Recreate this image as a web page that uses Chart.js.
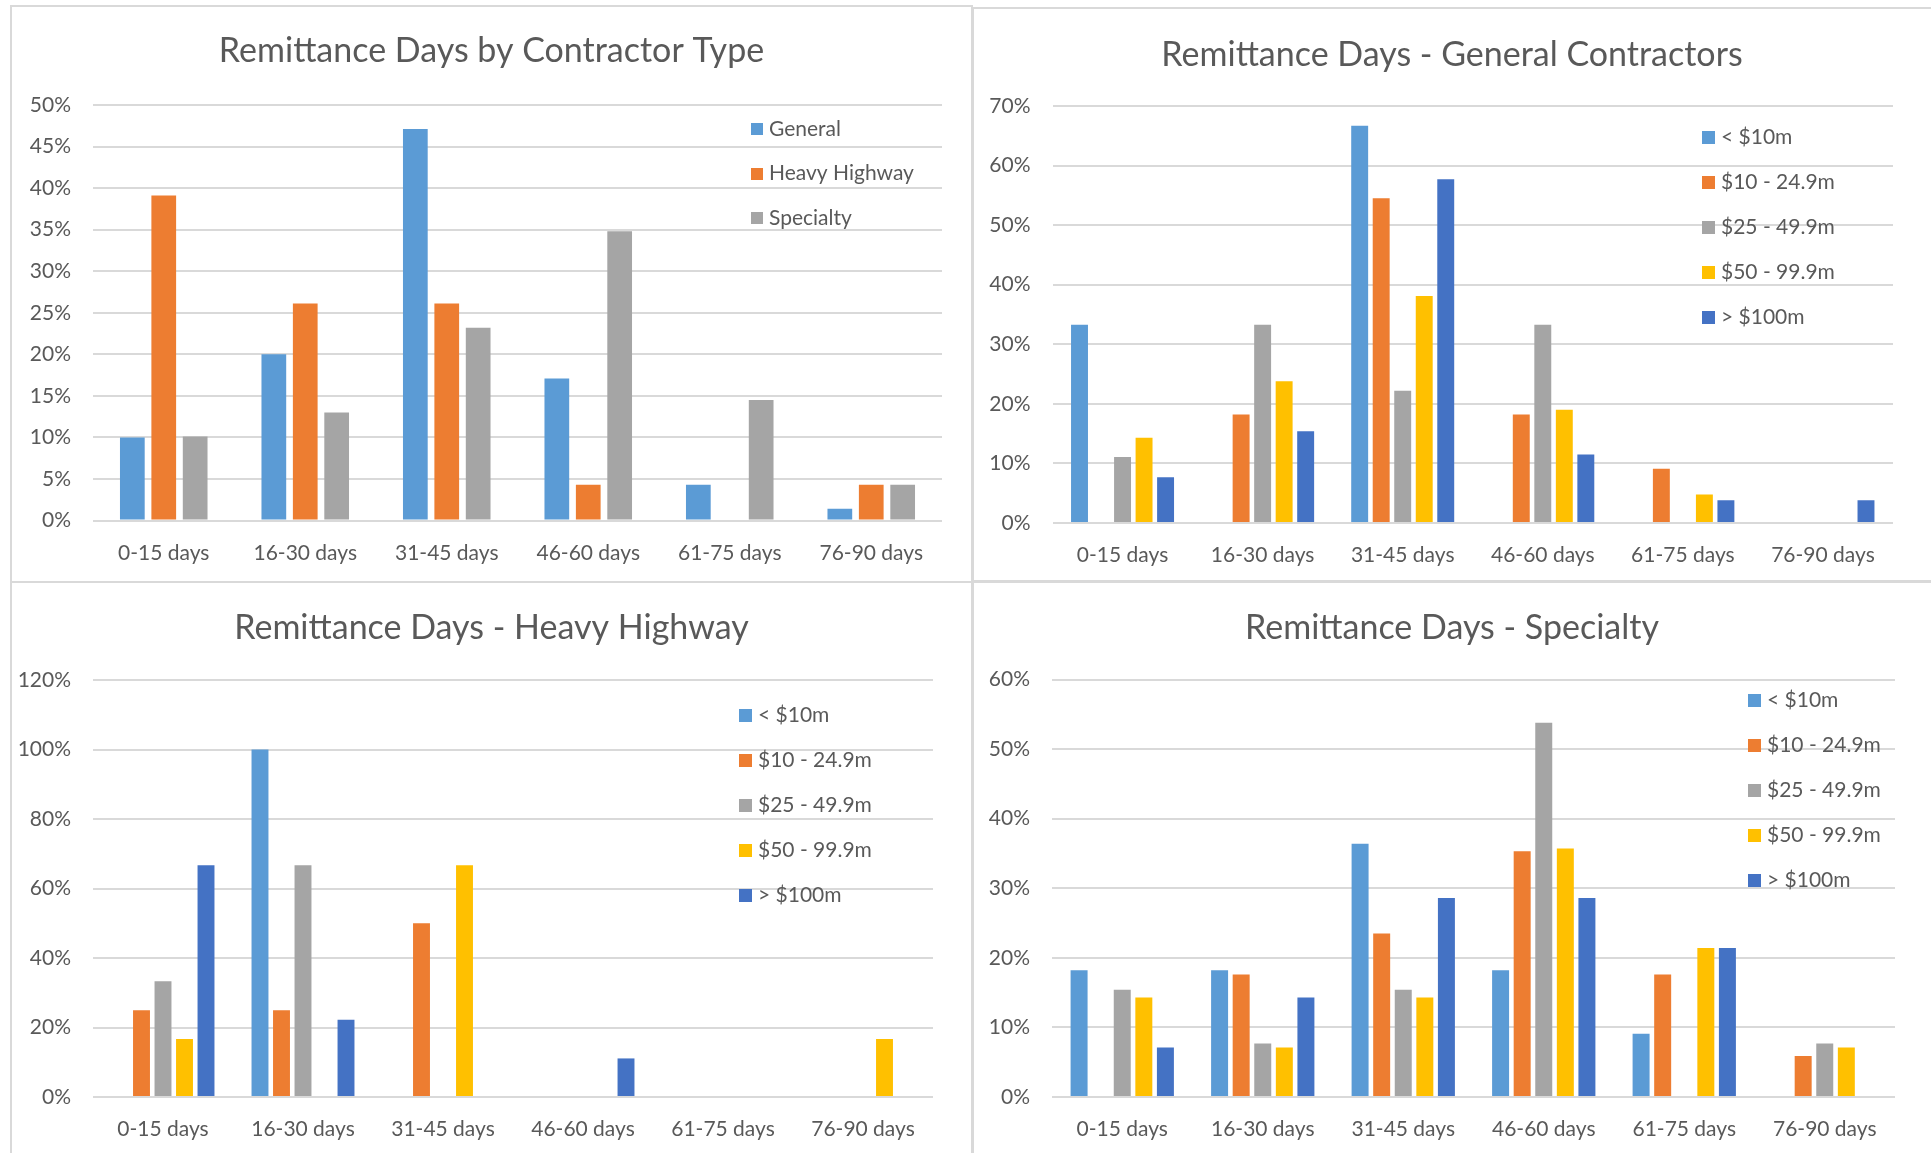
<!DOCTYPE html>
<html>
<head>
<meta charset="utf-8">
<script src="https://cdn.jsdelivr.net/npm/chart.js@4.4.1/dist/chart.umd.min.js"></script>
<style>
  html, body { margin: 0; padding: 0; background: #ffffff; }
  body { width: 1931px; height: 1153px; position: relative; overflow: hidden; }
  .panel { position: absolute; box-sizing: border-box; border: 2px solid #D9D9D9; }
  canvas { position: absolute; }
</style>
</head>
<body>
<div class="panel" style="left:10px;top:5px;width:963px;height:578px;"></div>
<div class="panel" style="left:972px;top:7px;width:975px;height:575px;"></div>
<div class="panel" style="left:10px;top:581px;width:963px;height:590px;"></div>
<div class="panel" style="left:972px;top:581px;width:975px;height:590px;"></div>

<canvas id="c1" width="961" height="582" style="left:11px;top:0px;width:961px;height:582px;"></canvas>
<canvas id="c2" width="958" height="582" style="left:973px;top:0px;width:958px;height:582px;"></canvas>
<canvas id="c3" width="961" height="570" style="left:11px;top:583px;width:961px;height:570px;"></canvas>
<canvas id="c4" width="958" height="570" style="left:973px;top:583px;width:958px;height:570px;"></canvas>

<script>
// ---------- DATA ----------
const categories = ['0-15 days', '16-30 days', '31-45 days', '46-60 days', '61-75 days', '76-90 days'];
const typeLabels = ['General', 'Heavy Highway', 'Specialty'];
const sizeLabels = ['< $10m', '$10 - 24.9m', '$25 - 49.9m', '$50 - 99.9m', '> $100m'];

const chartTitles = [
  'Remittance Days by Contractor Type',
  'Remittance Days - General Contractors',
  'Remittance Days - Heavy Highway',
  'Remittance Days - Specialty'
];

// Chart 1: by contractor type (%)
const typeGeneral      = [10.0, 20.0, 47.1, 17.1, 4.3, 1.4];
const typeHeavyHighway = [39.1, 26.1, 26.1, 4.3, 0, 4.3];
const typeSpecialty    = [10.1, 13.0, 23.2, 34.8, 14.5, 4.3];

// Chart 2: General contractors by size (%)
const genUnder10  = [33.3, 0, 66.7, 0, 0, 0];
const gen10to25   = [0, 18.2, 54.5, 18.2, 9.1, 0];
const gen25to50   = [11.1, 33.3, 22.2, 33.3, 0, 0];
const gen50to100  = [14.3, 23.8, 38.1, 19.0, 4.8, 0];
const genOver100  = [7.7, 15.4, 57.7, 11.5, 3.8, 3.8];

// Chart 3: Heavy Highway by size (%)
const hhUnder10  = [0, 100, 0, 0, 0, 0];
const hh10to25   = [25.0, 25.0, 50.0, 0, 0, 0];
const hh25to50   = [33.3, 66.7, 0, 0, 0, 0];
const hh50to100  = [16.7, 0, 66.7, 0, 0, 16.7];
const hhOver100  = [66.7, 22.2, 0, 11.1, 0, 0];

// Chart 4: Specialty by size (%)
const spUnder10  = [18.2, 18.2, 36.4, 18.2, 9.1, 0];
const sp10to25   = [0, 17.6, 23.5, 35.3, 17.6, 5.9];
const sp25to50   = [15.4, 7.7, 15.4, 53.8, 0, 7.7];
const sp50to100  = [14.3, 7.1, 14.3, 35.7, 21.4, 7.1];
const spOver100  = [7.1, 14.3, 28.6, 28.6, 21.4, 0];

// Axis ranges (tick labels)
const axisMax   = [50, 70, 120, 60];
const axisStep  = [5, 10, 20, 10];

// ---------- STYLE ----------
const COLORS = ['#5B9BD5', '#ED7D31', '#A5A5A5', '#FFC000', '#4472C4'];
const TEXT = '#595959';
const FONT = 'Lato, "Open Sans", sans-serif';

const insideLegend = {
  id: 'insideLegend',
  afterDatasetsDraw(chart, args, o) {
    const ctx = chart.ctx;
    ctx.save();
    ctx.font = o.fontSize + 'px ' + FONT;
    ctx.textBaseline = 'middle';
    ctx.textAlign = 'left';
    chart.data.datasets.forEach((ds, i) => {
      const y = o.y + i * o.spacing;
      ctx.fillStyle = ds.backgroundColor;
      ctx.fillRect(o.x, Math.round(y - o.box / 2), o.box, o.box);
      ctx.fillStyle = TEXT;
      ctx.fillText(ds.label, o.x + o.box + o.gap, y);
    });
    ctx.restore();
  }
};

// centre the title on the whole panel (canvas) rather than on the padded box
const centerTitle = {
  id: 'centerTitle',
  afterLayout(chart) {
    const t = chart.titleBlock;
    if (t) { t.left = 0; t.right = chart.width; t.width = chart.width; }
  }
};

function build(id, title, labels, series, idx, geom) {
  const datasets = series.map((d, i) => ({
    label: labels[i],
    data: d,
    backgroundColor: geom.colors[i],
    categoryPercentage: geom.catPct,
    barPercentage: geom.barPct
  }));
  const titleSize = 34, titleLH = titleSize * 1.2;
  const padTop = geom.titleY - titleLH / 2;
  const padBottom = geom.top - padTop - titleLH;
  new Chart(document.getElementById(id), {
    type: 'bar',
    data: { labels: categories, datasets },
    plugins: [insideLegend, centerTitle],
    options: {
      responsive: false,
      animation: false,
      devicePixelRatio: 1,
      layout: { autoPadding: false, padding: { left: 0, right: geom.right, top: 0, bottom: 0 } },
      plugins: {
        legend: { display: false },
        tooltip: { enabled: false },
        title: {
          display: true, text: title, color: TEXT,
          font: { family: FONT, size: titleSize, weight: 'normal', lineHeight: 1.2 },
          padding: { top: padTop, bottom: padBottom }
        },
        insideLegend: geom.legend
      },
      scales: {
        x: {
          grid: { display: false },
          border: { display: false },
          ticks: { color: TEXT, font: { family: FONT, size: 21 }, padding: 12, maxRotation: 0, autoSkip: false },
          afterFit: s => { s.height = geom.xH; }
        },
        y: {
          min: 0, max: axisMax[idx],
          grid: { color: '#D9D9D9', lineWidth: 2, drawTicks: false },
          border: { display: false },
          ticks: { stepSize: axisStep[idx], color: TEXT, font: { family: FONT, size: 21 }, padding: 22,
                   callback: v => v + '%' },
          afterFit: s => { s.width = geom.left; }
        }
      }
    }
  });
}

function go() {
  const three = { catPct: 0.666, barPct: 0.787 };
  const five = { catPct: 0.768, barPct: 0.787 };
  build('c1', chartTitles[0], typeLabels, [typeGeneral, typeHeavyHighway, typeSpecialty], 0,
    Object.assign({ colors: COLORS.slice(0, 3), left: 82, right: 30, top: 105, xH: 61.5, titleY: 51.5,
      legend: { x: 740, y: 129, spacing: 44.5, box: 12, gap: 6, fontSize: 21 } }, three));
  build('c2', chartTitles[1], sizeLabels, [genUnder10, gen10to25, gen25to50, gen50to100, genOver100], 1,
    Object.assign({ colors: COLORS, left: 79.5, right: 38, top: 106, xH: 59, titleY: 55,
      legend: { x: 729, y: 137, spacing: 45, box: 13, gap: 6, fontSize: 21 } }, five));
  build('c3', chartTitles[2], sizeLabels, [hhUnder10, hh10to25, hh25to50, hh50to100, hhOver100], 2,
    Object.assign({ colors: COLORS, left: 82, right: 39, top: 97, xH: 56, titleY: 45.5,
      legend: { x: 728, y: 132.5, spacing: 45, box: 13, gap: 6, fontSize: 21 } }, five));
  build('c4', chartTitles[3], sizeLabels, [spUnder10, sp10to25, sp25to50, sp50to100, spOver100], 3,
    Object.assign({ colors: COLORS, left: 79, right: 36, top: 96.5, xH: 56, titleY: 45.5,
      legend: { x: 775, y: 117, spacing: 45, box: 13, gap: 6, fontSize: 21 } }, five));
}

if (document.fonts && document.fonts.load) {
  Promise.all([document.fonts.load('21px Lato'), document.fonts.load('34px Lato')]).then(go, go);
} else { go(); }
</script>
</body>
</html>
